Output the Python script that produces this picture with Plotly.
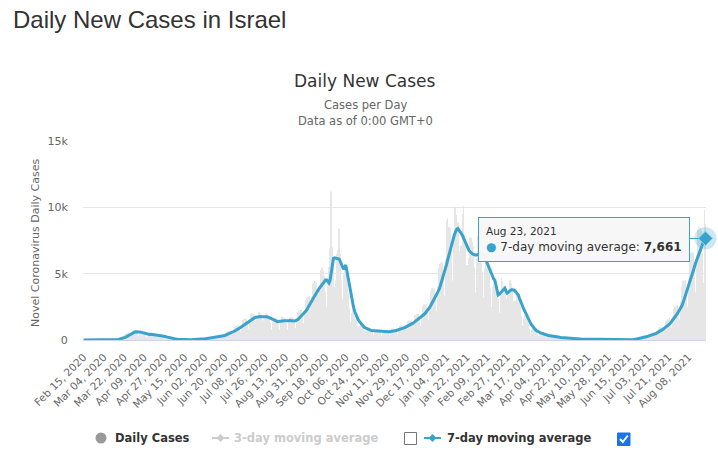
import pandas as pd
import plotly.graph_objects as go

# ---------------- data ----------------
start_date = "2020-02-15"

daily_cases = [
    0, 0, 0, 0, 0, 1, 0,
    0, 1, 0, 0, 2, 1, 0,
    1, 0, 2, 3, 2, 4, 3,
    3, 6, 9, 12, 14, 17, 20,
    25, 57, 96, 120, 150, 180, 170,
    132, 275, 408, 468, 506, 539, 450,
    314, 570, 738, 750, 713, 671, 506,
    316, 513, 600, 564, 518, 484, 366,
    231, 409, 504, 480, 437, 402, 298,
    184, 304, 378, 372, 345, 319, 238,
    143, 223, 252, 222, 184, 154, 102,
    55, 81, 84, 72, 58, 46, 30,
    17, 25, 26, 24, 21, 19, 14,
    9, 16, 22, 24, 25, 26, 22,
    15, 30, 46, 54, 63, 72, 66,
    50, 100, 138, 150, 155, 160, 132,
    91, 166, 222, 234, 236, 237, 196,
    138, 257, 348, 378, 391, 407, 340,
    242, 456, 624, 672, 690, 704, 578,
    396, 732, 984, 1056, 1081, 1100, 901,
    616, 1121, 1500, 1584, 1599, 1595, 1284,
    858, 1539, 1992, 2040, 1978, 1914, 1488,
    968, 1682, 2112, 2124, 2024, 1925, 1496,
    957, 1634, 2016, 1968, 1840, 1705, 1275,
    798, 1330, 1656, 1668, 1622, 1573, 1233,
    803, 1378, 1740, 1728, 1668, 1606, 1250,
    798, 1368, 1740, 1728, 1668, 1628, 1301,
    880, 1596, 2112, 2220, 2243, 2244, 1819,
    1238, 2261, 3024, 3216, 3266, 3300, 2678,
    1799, 3230, 4260, 4440, 4428, 4345, 3443,
    2283, 4066, 5280, 5424, 5198, 4840, 3655,
    2500, 4200, 5500, 6900, 11200, 7000, 5500,
    4000, 4500, 6500, 6800, 8400, 6500, 4500,
    3100, 4940, 5640, 5040, 4255, 3520, 2380,
    1348, 2043, 2280, 2040, 1783, 1562, 1105,
    660, 1045, 1200, 1116, 1012, 924, 680,
    424, 703, 864, 852, 805, 770, 595,
    380, 646, 804, 792, 748, 704, 536,
    344, 589, 744, 750, 719, 693, 544,
    363, 646, 840, 864, 851, 836, 672,
    451, 808, 1056, 1092, 1093, 1089, 876,
    589, 1064, 1404, 1464, 1461, 1463, 1182,
    798, 1435, 1884, 1968, 1967, 1958, 1581,
    1067, 1919, 2544, 2676, 2703, 2728, 2227,
    1524, 2774, 3696, 3888, 3899, 3905, 3188,
    2189, 4038, 5400, 5724, 5808, 5885, 4845,
    3328, 6080, 9000, 9200, 8510, 8470, 6758,
    4483, 7933, 10080, 9960, 9430, 8855, 6715,
    4235, 7125, 9500, 10100, 7947, 7425, 5653,
    3603, 6175, 7740, 7692, 7360, 7062, 5483,
    3575, 6213, 7848, 7800, 7360, 6875, 5143,
    3218, 5368, 6480, 6180, 5693, 5225, 3910,
    2486, 3990, 4560, 4068, 3968, 3905, 3103,
    2063, 3658, 4680, 4440, 4071, 3960, 3145,
    2063, 3591, 4524, 4524, 4255, 3960, 2933,
    1865, 2993, 3480, 3180, 2818, 2530, 1819,
    1073, 1663, 1860, 1680, 1449, 1243, 850,
    495, 760, 864, 780, 719, 638, 459,
    275, 437, 516, 480, 437, 396, 289,
    176, 285, 348, 336, 311, 286, 213,
    127, 204, 240, 228, 207, 187, 140,
    88, 147, 180, 174, 161, 149, 111,
    66, 105, 120, 114, 104, 94, 68,
    41, 68, 84, 82, 75, 66, 47,
    28, 46, 54, 50, 46, 42, 31,
    19, 32, 40, 38, 36, 33, 26,
    16, 27, 32, 31, 29, 26, 20,
    12, 20, 24, 24, 22, 20, 14,
    9, 14, 17, 17, 16, 14, 11,
    7, 13, 18, 19, 21, 24, 26,
    25, 67, 120, 156, 178, 187, 157,
    110, 209, 288, 312, 322, 330, 281,
    198, 371, 504, 552, 575, 594, 493,
    341, 646, 888, 960, 989, 1012, 842,
    583, 1083, 1464, 1560, 1610, 1650, 1377,
    963, 1786, 2400, 2544, 2599, 2640, 2193,
    1540, 2898, 4020, 4440, 4485, 4510, 3655,
    2503, 4608, 6180, 6540, 6613, 6600, 5313,
    3575, 6413, 8340, 8580, 8453, 8250, 6512,
    4290, 9800, 8700,
]

avg_7day = [
    0, 0, 0, 0, 0, 1, 1,
    1, 1, 1, 1, 1, 1, 1,
    1, 1, 2, 2, 2, 3, 3,
    4, 5, 6, 8, 10, 12, 15,
    20, 25, 32, 45, 60, 80, 100,
    130, 165, 200, 240, 290, 340, 390,
    440, 490, 530, 570, 600, 615, 625,
    620, 610, 595, 575, 540, 500, 470,
    450, 440, 430, 420, 430, 420, 400,
    380, 365, 350, 335, 320, 315, 310,
    300, 290, 280, 260, 235, 210, 185,
    160, 140, 120, 100, 85, 70, 60,
    50, 42, 35, 30, 26, 22, 20,
    18, 17, 16, 16, 17, 18, 20,
    22, 24, 26, 28, 32, 38, 45,
    55, 65, 78, 90, 105, 115, 125,
    135, 145, 155, 165, 175, 185, 195,
    205, 215, 230, 250, 270, 290, 315,
    340, 370, 400, 440, 480, 520, 560,
    600, 640, 680, 720, 770, 820, 880,
    940, 1000, 1060, 1120, 1180, 1250, 1320,
    1390, 1450, 1510, 1560, 1620, 1660, 1700,
    1720, 1740, 1750, 1760, 1770, 1760, 1770,
    1760, 1750, 1760, 1740, 1720, 1680, 1640,
    1600, 1550, 1500, 1450, 1400, 1380, 1390,
    1410, 1430, 1450, 1460, 1450, 1450, 1440,
    1450, 1460, 1470, 1450, 1440, 1450, 1440,
    1450, 1480, 1530, 1600, 1680, 1760, 1850,
    1950, 2040, 2140, 2250, 2380, 2520, 2680,
    2840, 3000, 3150, 3270, 3400, 3550, 3700,
    3850, 3950, 4050, 4150, 4280, 4400, 4520,
    4520, 4400, 4300, 4500, 5200, 5800, 6150,
    6200, 6180, 6160, 6160, 6100, 5950, 5780,
    5500, 5330, 5500, 5650, 5200, 4700, 4200,
    3700, 3200, 2800, 2450, 2150, 1900, 1700,
    1550, 1420, 1300, 1200, 1100, 1000, 930,
    880, 840, 800, 770, 740, 720, 710,
    700, 700, 700, 690, 680, 670, 660,
    650, 640, 630, 625, 620, 620, 625,
    625, 630, 640, 660, 680, 700, 720,
    740, 760, 790, 820, 850, 880, 910,
    950, 990, 1030, 1070, 1120, 1170, 1220,
    1270, 1330, 1390, 1450, 1510, 1570, 1640,
    1710, 1780, 1860, 1940, 2020, 2120, 2230,
    2350, 2480, 2620, 2770, 2920, 3080, 3240,
    3390, 3550, 3750, 3980, 4250, 4500, 4770,
    5050, 5350, 5700, 6050, 6400, 6700, 7050,
    7400, 7700, 7950, 8150, 8350, 8400, 8300,
    8200, 8050, 7900, 7700, 7500, 7300, 7100,
    6910, 6750, 6650, 6550, 6500, 6450, 6410,
    6400, 6420, 6450, 6500, 6540, 6540, 6500,
    6400, 6250, 6050, 5850, 5650, 5400, 5150,
    4950, 4750, 4600, 4520, 4200, 3800, 3390,
    3450, 3550, 3650, 3750, 3850, 3900, 3700,
    3540, 3600, 3700, 3750, 3780, 3770, 3770,
    3700, 3600, 3450, 3390, 3150, 2900, 2650,
    2450, 2300, 2140, 1950, 1750, 1550, 1400,
    1260, 1130, 1000, 900, 800, 720, 650,
    625, 580, 540, 500, 460, 430, 400,
    380, 360, 340, 320, 300, 290, 280,
    270, 260, 250, 230, 215, 200, 190,
    180, 170, 165, 160, 155, 150, 145,
    140, 135, 130, 120, 110, 100, 95,
    90, 85, 80, 75, 72, 70, 68,
    65, 60, 55, 50, 48, 45, 42,
    40, 38, 36, 35, 34, 33, 32,
    31, 30, 30, 29, 28, 27, 26,
    25, 24, 23, 22, 21, 20, 20,
    19, 18, 17, 16, 15, 14, 14,
    14, 13, 13, 13, 14, 15, 16,
    18, 22, 30, 45, 70, 100, 130,
    155, 170, 185, 200, 220, 240, 260,
    280, 300, 330, 360, 390, 420, 460,
    500, 540, 580, 620, 680, 740, 800,
    860, 920, 990, 1060, 1140, 1220, 1300,
    1400, 1500, 1620, 1750, 1880, 2000, 2120,
    2260, 2400, 2580, 2800, 3050, 3350, 3700,
    3900, 4100, 4300, 4550, 4850, 5150, 5450,
    5750, 6000, 6250, 6500, 6750, 6950, 7150,
    7350, 7500, 7661,
]

y_tick_vals = [0, 5000, 10000, 15000]
y_tick_text = ["0", "5k", "10k", "15k"]
x_tick_step = 18

title_text = "Daily New Cases in Israel"
chart_title = "Daily New Cases"
subtitle_1 = "Cases per Day"
subtitle_2 = "Data as of 0:00 GMT+0"
y_title = "Novel Coronavirus Daily Cases"
legend_labels = ["Daily Cases", "3-day moving average", "7-day moving average"]

# ---------------- layout helpers ----------------
W, H = 718, 454
L, R, T, B = 83, 12, 141, 114
PW, PH = W - L - R, H - T - B


def px(x):
    return (x - L) / PW


def py(y):
    return (H - B - y) / PH


dates = pd.date_range(start_date, periods=len(daily_cases), freq="D")
tick_dates = dates[::x_tick_step]
tick_text = [d.strftime("%b %d, %Y") for d in tick_dates]
half_day = pd.Timedelta(hours=12)

LINE_COLOR = "#39a3cb"
FONT = "DejaVu Sans"

fig = go.Figure()
fig.add_trace(go.Bar(
    x=dates, y=daily_cases,
    marker=dict(color="#e6e6e6", line=dict(width=0)),
    width=0.5 * 86400000,
    hoverinfo="skip",
))
fig.add_trace(go.Scatter(
    x=dates, y=avg_7day, mode="lines",
    line=dict(color=LINE_COLOR, width=3),
    hoverinfo="skip",
))
# highlighted last point (halo + diamond)
fig.add_trace(go.Scatter(
    x=[dates[-1]], y=[avg_7day[-1]], mode="markers",
    marker=dict(size=22, color="rgba(57,163,203,0.25)", line=dict(width=0)),
    cliponaxis=False, hoverinfo="skip",
))
fig.add_trace(go.Scatter(
    x=[dates[-1]], y=[avg_7day[-1]], mode="markers",
    marker=dict(symbol="diamond", size=11, color=LINE_COLOR,
                line=dict(width=1, color="#8fd0e8")),
    cliponaxis=False, hoverinfo="skip",
))

annotations = []
shapes = []

# titles
annotations.append(dict(xref="paper", yref="paper", x=px(11), y=py(19),
                        xanchor="left", yanchor="middle", showarrow=False,
                        text=title_text,
                        font=dict(family="Liberation Sans", size=24, color="#333333")))
annotations.append(dict(xref="paper", yref="paper", x=px(365), y=py(81),
                        xanchor="center", yanchor="middle", showarrow=False,
                        text=chart_title,
                        font=dict(family=FONT, size=17, color="#333333")))
annotations.append(dict(xref="paper", yref="paper", x=px(365), y=py(105),
                        xanchor="center", yanchor="middle", showarrow=False,
                        text=subtitle_1,
                        font=dict(family=FONT, size=11.5, color="#666666")))
annotations.append(dict(xref="paper", yref="paper", x=px(365), y=py(121),
                        xanchor="center", yanchor="middle", showarrow=False,
                        text=subtitle_2,
                        font=dict(family=FONT, size=11.5, color="#666666")))
annotations.append(dict(xref="paper", yref="paper", x=px(35), y=py(243),
                        xanchor="center", yanchor="middle", showarrow=False,
                        textangle=-90, text=y_title,
                        font=dict(family=FONT, size=11, color="#666666")))

# tooltip
annotations.append(dict(
    xref="x", yref="y", x=dates[-1], y=avg_7day[-1],
    ax=-121, ay=1, axref="pixel", ayref="pixel",
    showarrow=True, arrowhead=0, arrowwidth=1, arrowcolor=LINE_COLOR, standoff=7,
    bgcolor="rgba(247,247,247,0.96)", bordercolor=LINE_COLOR, borderwidth=1,
    borderpad=7, align="left",
    text=(f"<span style='font-size:10.5px'>{dates[-1].strftime('%b %d, %Y')}</span><br>"
          f"<span style='color:{LINE_COLOR}'>●</span> 7-day moving average: "
          f"<b>{avg_7day[-1]:,}</b>"),
    font=dict(family=FONT, size=12, color="#333333"),
))

# legend
LEG_Y = 438


def diamond_path(cx, cy, r):
    return (f"M {px(cx)},{py(cy - r)} L {px(cx + r)},{py(cy)} "
            f"L {px(cx)},{py(cy + r)} L {px(cx - r)},{py(cy)} Z")


shapes.append(dict(type="circle", xref="paper", yref="paper",
                   x0=px(95.5), x1=px(106.5), y0=py(LEG_Y - 5.5), y1=py(LEG_Y + 5.5),
                   fillcolor="#999999", line=dict(width=0)))
annotations.append(dict(xref="paper", yref="paper", x=px(113), y=py(LEG_Y),
                        xanchor="left", yanchor="middle", showarrow=False,
                        text=f"<b>{legend_labels[0]}</b>",
                        font=dict(family=FONT, size=11.5, color="#333333")))
# 3-day (hidden series)
shapes.append(dict(type="line", xref="paper", yref="paper",
                   x0=px(212), x1=px(229), y0=py(LEG_Y), y1=py(LEG_Y),
                   line=dict(color="#cccccc", width=2)))
shapes.append(dict(type="path", xref="paper", yref="paper",
                   path=diamond_path(220.5, LEG_Y, 4), fillcolor="#cccccc",
                   line=dict(width=0)))
annotations.append(dict(xref="paper", yref="paper", x=px(232), y=py(LEG_Y),
                        xanchor="left", yanchor="middle", showarrow=False,
                        text=f"<b>{legend_labels[1]}</b>",
                        font=dict(family=FONT, size=11.5, color="#cccccc")))
shapes.append(dict(type="rect", xref="paper", yref="paper",
                   x0=px(404.5), x1=px(416.5), y0=py(LEG_Y - 5.5), y1=py(LEG_Y + 6.5),
                   fillcolor="white", line=dict(color="#767676", width=1)))
# 7-day
shapes.append(dict(type="line", xref="paper", yref="paper",
                   x0=px(424), x1=px(441), y0=py(LEG_Y), y1=py(LEG_Y),
                   line=dict(color=LINE_COLOR, width=2)))
shapes.append(dict(type="path", xref="paper", yref="paper",
                   path=diamond_path(432.5, LEG_Y, 4), fillcolor=LINE_COLOR,
                   line=dict(width=0)))
annotations.append(dict(xref="paper", yref="paper", x=px(445), y=py(LEG_Y),
                        xanchor="left", yanchor="middle", showarrow=False,
                        text=f"<b>{legend_labels[2]}</b>",
                        font=dict(family=FONT, size=11.5, color="#333333")))
shapes.append(dict(type="rect", xref="paper", yref="paper",
                   x0=px(617.5), x1=px(630), y0=py(LEG_Y - 5), y1=py(LEG_Y + 7.5),
                   fillcolor="#1a73e8", line=dict(color="#1a73e8", width=1)))
shapes.append(dict(type="path", xref="paper", yref="paper",
                   path=(f"M {px(620)},{py(LEG_Y + 1)} L {px(622.8)},{py(LEG_Y + 4)} "
                         f"L {px(627.8)},{py(LEG_Y - 2.5)}"),
                   line=dict(color="white", width=2)))

fig.update_layout(
    width=W, height=H,
    margin=dict(l=L, r=R, t=T, b=B, pad=0),
    paper_bgcolor="white", plot_bgcolor="white",
    showlegend=False,
    bargap=0.3,
    annotations=annotations,
    shapes=shapes,
    xaxis=dict(
        type="date",
        range=[dates[0] - half_day, dates[-1] + half_day],
        tickmode="array", tickvals=list(tick_dates), ticktext=tick_text,
        tickangle=-45,
        tickfont=dict(family=FONT, size=10.5, color="#666666"),
        showgrid=False, zeroline=False,
        showline=True, linecolor="#ccd6eb", linewidth=1,
        ticks="outside", ticklen=6, tickcolor="rgba(0,0,0,0)",
        fixedrange=True,
    ),
    yaxis=dict(
        range=[0, 15000],
        tickmode="array", tickvals=y_tick_vals, ticktext=y_tick_text,
        tickfont=dict(family=FONT, size=11, color="#666666"),
        showgrid=True, gridcolor="#e6e6e6", gridwidth=1,
        zeroline=False, showline=False,
        ticks="outside", ticklen=12, tickcolor="rgba(0,0,0,0)",
        fixedrange=True,
    ),
)

fig.write_html("out.html", config={"displayModeBar": False})
